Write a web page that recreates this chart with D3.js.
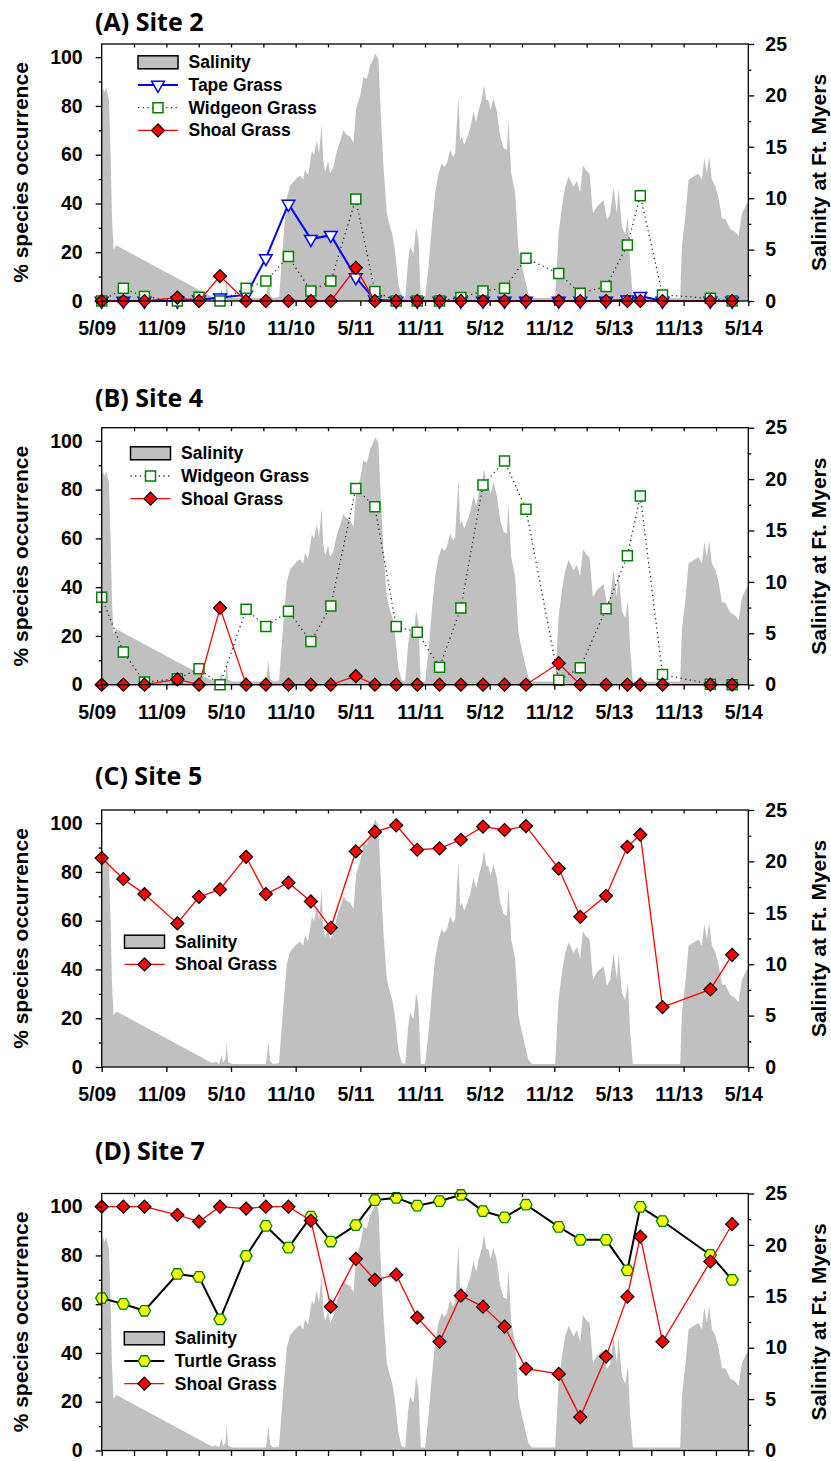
<!DOCTYPE html>
<html>
<head>
<meta charset="utf-8">
<script src="https://cdn.jsdelivr.net/npm/d3@7"></script>
<style>
  body { margin: 0; background: #fff; }
  svg text { font-family: "Liberation Sans", Arial, sans-serif; font-weight: bold; fill: #000; }
  .title { font-family: "Open Sans", sans-serif; }
</style>
</head>
<body>
<svg id="chart" width="831" height="1462"></svg>
<script>
// months since 5/09 for each survey
var sampleMonths = [0, 2.01, 3.97, 7.02, 9.03, 10.98, 13.40, 15.23, 17.33, 19.41, 21.26, 23.58, 25.35, 27.33,
  29.28, 31.35, 33.33, 35.38, 37.38, 39.37, 42.41, 44.41, 46.80, 48.78, 49.98, 52.04, 56.48, 58.50];

var tickLabels = ["5/09", "11/09", "5/10", "11/10", "5/11", "11/11", "5/12", "11/12", "5/13", "11/13", "5/14"];

var site2Tape    = [0, 0, 0, 0, 0.5, 1.4, 2.5, 17.5, 39.8, 25.4, 27.0, 9.7, 0.5, 0, 0, 0, 0, 0, 0, 0, 0, 0, 0, 0.5, 2.0, 0, 0, 0];
var site2Widgeon = [0, 5.2, 1.8, 0, 1.5, 0, 5.2, 8.2, 18.2, 4.1, 8.2, 41.8, 3.9, 0, 0, 0, 1.4, 4.1, 5.2, 17.5, 11.3, 3.2, 5.9, 23.0, 43.2, 2.5, 1.1, 0];
var site2Shoal   = [0, 0, 0, 1.4, 0, 10.2, 0, 0, 0, 0, 0, 13.6, 0, 0, 0, 0, 0, 0, 0, 0, 0, 0, 0, 0, 0, 0, 0, 0];

var site4Widgeon = [35.9, 13.4, 1.1, 2.4, 6.5, 0, 30.9, 23.9, 30.1, 17.7, 32.3, 80.5, 73.0, 23.9, 21.5, 7.2, 31.5, 81.9, 91.7, 72.0, 1.8, 7.0, 31.1, 52.9, 77.4, 4.2, 0.2, 0];
var site4Shoal   = [0, 0, 0, 2.2, 0, 31.5, 0, 0, 0, 0, 0, 3.5, 0, 0, 0, 0, 0, 0, 0, 0, 8.8, 0, 0, 0, 0, 0, 0, 0];

var site5Shoal   = [85.7, 77.1, 70.9, 58.9, 69.8, 72.8, 86.2, 70.9, 75.6, 67.9, 57.1, 88.4, 96.4, 99.1, 89.1, 89.7, 93.2, 98.6, 97.2, 98.8, 81.4, 61.6, 70.2, 90.3, 95.3, 24.6, 31.8, 46.0];

var site7Turtle  = [62.5, 60.1, 57.3, 72.4, 71.2, 53.8, 79.8, 92.1, 83.2, 95.9, 85.7, 92.4, 102.7, 103.6, 100.4, 102.3, 104.8, 98.2, 95.6, 100.8, 91.7, 86.4, 86.4, 73.9, 99.9, 94.1, 80.2, 70.0];
var site7Shoal   = [100, 100, 100, 96.6, 93.9, 100, 99.2, 100, 100, 94.3, 59.0, 78.6, 70.0, 72.1, 54.5, 44.6, 63.5, 59.0, 50.8, 33.6, 31.4, 13.7, 38.5, 63.1, 87.7, 44.6, 77.5, 92.8];

// Ft. Myers salinity: [months since 5/09, salinity]
var salinity = [
  [0.00, 19.5], [0.12, 20.8], [0.26, 20.3], [0.40, 20.8], [0.54, 20.2], [0.68, 19.6], [0.82, 14.5], [0.96, 8.0],
  [1.10, 5.0], [1.37, 5.4], [10.24, 0.4], [10.61, 0.5], [10.89, 0.3], [11.14, 1.2], [11.26, 0.4], [11.49, 0.8],
  [11.60, 2.4], [11.72, 0.5], [12.10, 0.3], [13.77, 0.3], [15.25, 0.3], [15.47, 2.4], [15.62, 0.6], [15.90, 0.3],
  [16.46, 0.4], [16.64, 3.0], [16.86, 6.0], [17.17, 10.0], [17.48, 11.2], [17.79, 11.6], [18.13, 12.0], [18.41, 12.2],
  [18.69, 11.8], [18.87, 12.8], [19.15, 12.2], [19.50, 14.6], [19.71, 14.2], [19.96, 15.6], [20.17, 14.4], [20.42, 17.2],
  [20.54, 13.8], [20.73, 12.6], [21.01, 13.6], [21.19, 12.4], [21.50, 13.0], [21.82, 14.6], [22.12, 15.5], [22.43, 16.6],
  [22.68, 16.2], [23.05, 16.0], [23.36, 15.4], [23.61, 18.7], [23.98, 20.0], [24.29, 21.8], [24.60, 21.6], [24.91, 22.9],
  [25.19, 23.5], [25.37, 24.1], [25.68, 23.5], [25.84, 19.5], [26.14, 13.2], [26.46, 8.5], [26.76, 7.2], [26.95, 6.6],
  [27.23, 4.8], [27.53, 1.6], [27.85, 0.4], [28.16, 0.3], [28.44, 4.0], [28.62, 5.3], [28.93, 4.6], [29.18, 7.2],
  [29.39, 6.0], [29.61, 0.3], [30.01, 0.3], [30.32, 3.3], [30.63, 7.2], [30.94, 10.5], [31.25, 12.4], [31.56, 13.4],
  [31.78, 13.0], [32.03, 13.4], [32.33, 14.7], [32.61, 14.0], [32.80, 14.4], [33.10, 20.0], [33.26, 15.6], [33.42, 16.0],
  [33.63, 15.2], [33.88, 15.8], [34.19, 16.8], [34.50, 18.4], [34.75, 17.4], [34.96, 18.5], [35.28, 19.7], [35.49, 21.0],
  [35.68, 19.6], [35.89, 19.5], [36.09, 18.6], [36.35, 19.7], [36.67, 18.4], [36.98, 16.0], [37.28, 14.9], [37.60, 14.7],
  [37.75, 17.6], [38.00, 12.4], [38.37, 10.5], [38.67, 5.0], [38.99, 3.4], [39.30, 2.0], [39.60, 0.7], [39.92, 0.3],
  [42.08, 0.3], [42.39, 6.5], [42.71, 9.2], [43.01, 11.1], [43.32, 12.1], [43.57, 11.6], [43.78, 11.1], [44.10, 11.7],
  [44.40, 10.5], [44.65, 13.2], [44.96, 12.7], [45.27, 12.4], [45.58, 8.5], [45.95, 9.2], [46.26, 9.5], [46.57, 9.8],
  [46.88, 7.9], [47.19, 8.5], [47.49, 11.1], [47.81, 8.5], [47.96, 11.0], [48.27, 7.2], [48.58, 6.5], [48.83, 8.2],
  [49.04, 3.4], [49.29, 0.3], [53.68, 0.3], [53.84, 5.3], [54.15, 8.2], [54.46, 11.8], [54.92, 12.1], [55.38, 12.4],
  [55.70, 11.8], [55.91, 13.9], [56.16, 12.4], [56.37, 14.1], [56.62, 11.8], [56.93, 11.2], [57.24, 10.0], [57.56, 8.0],
  [57.86, 8.0], [58.33, 7.0], [58.79, 6.7], [59.10, 6.3], [59.41, 8.5], [59.88, 9.5], [60.00, 9.6]
];

var svg = d3.select('#chart');

var left = 101.7, right = 748.3, plotH = 257;

var x = d3.scaleLinear().domain([0, 60]).range([left, right]);

// hexagon symbol for turtle grass
var symbolHexagon = {
  draw: function(ctx, size) {
    var r = Math.sqrt(size / 2.598);
    for (var i = 0; i < 6; i++) {
      var a = Math.PI / 3 * i;
      if (i === 0) ctx.moveTo(r * Math.cos(a), r * Math.sin(a));
      else ctx.lineTo(r * Math.cos(a), r * Math.sin(a));
    }
    ctx.closePath();
  }
};

var styles = {
  tape:    { line: '#0000ff', width: 2, dash: null, symbol: d3.symbolTriangle, size: 70, rotate: 180, fill: '#fff', stroke: '#0000ff', sw: 1.5 },
  widgeon: { line: '#222', width: 1.3, dash: '1.2,3.5', symbol: d3.symbolSquare, size: 100, rotate: 0, fill: '#fff', stroke: '#008000', sw: 1.5 },
  shoal:   { line: '#ff0000', width: 1.3, dash: null, symbol: d3.symbolSquare, size: 85, rotate: 45, fill: '#ff0000', stroke: '#000', sw: 1.2 },
  turtle:  { line: '#000', width: 2, dash: null, symbol: symbolHexagon, size: 95, rotate: 0, fill: '#ffff00', stroke: '#008000', sw: 1.3 }
};

var panels = [
  { title: '(A) Site 2', top: 44, titleY: 31, labels: true,
    series: [['Tape Grass', 'tape', site2Tape], ['Widgeon Grass', 'widgeon', site2Widgeon], ['Shoal Grass', 'shoal', site2Shoal]],
    legend: [138, 62.3] },
  { title: '(B) Site 4', top: 427.7, titleY: 407, labels: true,
    series: [['Widgeon Grass', 'widgeon', site4Widgeon], ['Shoal Grass', 'shoal', site4Shoal]],
    legend: [130.5, 453.3] },
  { title: '(C) Site 5', top: 810, titleY: 785, labels: true,
    series: [['Shoal Grass', 'shoal', site5Shoal]],
    legend: [124.5, 941.7] },
  { title: '(D) Site 7', top: 1193.5, titleY: 1160, labels: false,
    series: [['Turtle Grass', 'turtle', site7Turtle], ['Shoal Grass', 'shoal', site7Shoal]],
    legend: [124.3, 1338.3] }
];

panels.forEach(drawPanel);

function drawPanel(p) {
  var bottom = p.top + plotH;
  var y = d3.scaleLinear().domain([0, 105.4]).range([bottom, p.top]);
  var y2 = d3.scaleLinear().domain([0, 25]).range([bottom, p.top]);
  var g = svg.append('g');

  // salinity area
  var area = d3.area()
      .x(function(d) { return x(d[0]); })
      .y0(y2(0))
      .y1(function(d) { return y2(d[1]); });
  g.append('path')
      .datum(salinity)
      .attr('d', area)
      .attr('fill', '#c0c0c0');

  // species lines and markers
  p.series.forEach(function(s) {
    var st = styles[s[1]];
    var pts = sampleMonths.map(function(m, i) { return [m, s[2][i]]; });
    var line = d3.line()
        .x(function(d) { return x(d[0]); })
        .y(function(d) { return y(d[1]); });
    g.append('path')
        .datum(pts)
        .attr('d', line)
        .attr('fill', 'none')
        .attr('stroke', st.line)
        .attr('stroke-width', st.width)
        .attr('stroke-dasharray', st.dash);
    g.append('g').selectAll('path')
        .data(pts)
        .enter().append('path')
        .attr('d', d3.symbol().type(st.symbol).size(st.size))
        .attr('transform', function(d) { return 'translate(' + x(d[0]) + ',' + y(d[1]) + ') rotate(' + st.rotate + ')'; })
        .attr('fill', st.fill)
        .attr('stroke', st.stroke)
        .attr('stroke-width', st.sw);
  });

  // frame
  g.append('rect')
      .attr('x', left).attr('y', p.top)
      .attr('width', right - left).attr('height', plotH)
      .attr('fill', 'none').attr('stroke', '#000').attr('stroke-width', 1.3);

  // left axis
  var la = g.append('g').attr('transform', 'translate(' + left + ',0)')
      .call(d3.axisLeft(y).tickValues([0, 20, 40, 60, 80, 100]).tickSize(6).tickPadding(13));
  g.append('g').attr('transform', 'translate(' + left + ',0)')
      .call(d3.axisLeft(y).tickValues([10, 30, 50, 70, 90]).tickSize(3).tickFormat(''));

  // right axis
  var ra = g.append('g').attr('transform', 'translate(' + right + ',0)')
      .call(d3.axisRight(y2).tickValues([0, 5, 10, 15, 20, 25]).tickSize(6).tickPadding(11));
  g.append('g').attr('transform', 'translate(' + right + ',0)')
      .call(d3.axisRight(y2).tickValues([2.5, 7.5, 12.5, 17.5, 22.5]).tickSize(3).tickFormat(''));

  // top inner ticks
  g.append('g').attr('transform', 'translate(0,' + p.top + ')')
      .call(d3.axisTop(x).tickValues(d3.range(3, 60, 3)).tickSize(-3.5).tickFormat(''));

  // bottom axis
  var ba;
  if (p.labels) {
    ba = g.append('g').attr('transform', 'translate(0,' + bottom + ')')
        .call(d3.axisBottom(x).tickValues(d3.range(0, 61, 6)).tickSize(5).tickPadding(15)
          .tickFormat(function(d, i) { return tickLabels[i]; }));
    ba.selectAll('text').attr('dx', -5);
  } else {
    ba = g.append('g').attr('transform', 'translate(0,' + bottom + ')')
        .call(d3.axisBottom(x).tickValues(d3.range(0, 61, 3)).tickSize(5.5).tickFormat(''));
  }

  g.selectAll('.domain').remove();
  g.selectAll('.tick line').attr('stroke', '#000').attr('stroke-width', 1.3);
  g.selectAll('.tick text').style('font-size', '19.5px').style('font-family', '"Liberation Sans", Arial, sans-serif')
      .style('font-weight', 'bold');

  // axis titles
  var mid = (p.top + bottom) / 2;
  g.append('text')
      .attr('transform', 'translate(20,' + mid + ') rotate(-90)')
      .attr('text-anchor', 'middle')
      .attr('dominant-baseline', 'central')
      .style('font-size', '21px')
      .text('% species occurrence');
  g.append('text')
      .attr('transform', 'translate(818,' + mid + ') rotate(-90)')
      .attr('text-anchor', 'middle')
      .attr('dominant-baseline', 'central')
      .style('font-size', '21px')
      .text('Salinity at Ft. Myers');

  // panel title
  g.append('text')
      .attr('class', 'title')
      .attr('x', 95)
      .attr('y', p.titleY)
      .style('font-size', '25px')
      .text(p.title);

  // legend
  var lx = p.legend[0], ly = p.legend[1], rowH = 22.7, w = 40;
  var leg = g.append('g');
  leg.append('rect')
      .attr('x', lx).attr('y', ly - 6.5)
      .attr('width', w).attr('height', 13)
      .attr('fill', '#c0c0c0').attr('stroke', '#000').attr('stroke-width', 1.5);
  leg.append('text')
      .attr('x', lx + w + 10.5).attr('y', ly)
      .attr('dominant-baseline', 'central')
      .style('font-size', '17.5px')
      .text('Salinity');
  p.series.forEach(function(s, i) {
    var st = styles[s[1]];
    var yy = ly + rowH * (i + 1);
    leg.append('line')
        .attr('x1', lx).attr('x2', lx + w)
        .attr('y1', yy).attr('y2', yy)
        .attr('stroke', st.line)
        .attr('stroke-width', st.width)
        .attr('stroke-dasharray', st.dash);
    leg.append('path')
        .attr('d', d3.symbol().type(st.symbol).size(st.size))
        .attr('transform', 'translate(' + (lx + w / 2) + ',' + yy + ') rotate(' + st.rotate + ')')
        .attr('fill', st.fill)
        .attr('stroke', st.stroke)
        .attr('stroke-width', st.sw);
    leg.append('text')
        .attr('x', lx + w + 10.5).attr('y', yy)
        .attr('dominant-baseline', 'central')
        .style('font-size', '17.5px')
        .text(s[0]);
  });
}
</script>
</body>
</html>
